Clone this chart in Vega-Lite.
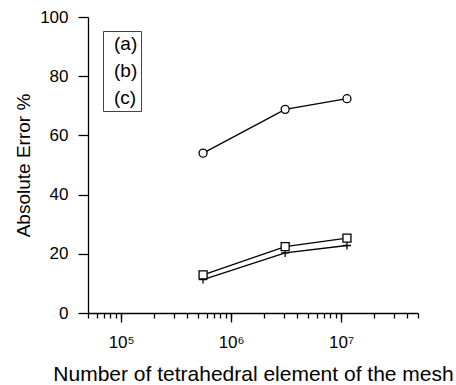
{
  "$schema": "https://vega.github.io/schema/vega-lite/v6.json",
  "autosize": "none",
  "padding": {"left": 88, "top": 17, "right": 38, "bottom": 72},
  "width": 330,
  "height": 296,
  "background": "white",
  "config": {
    "font": "Liberation Sans",
    "view": {"stroke": null},
    "axis": {"grid": false, "domainColor": "black", "tickColor": "black", "labelColor": "black", "titleColor": "black", "labelFont": "Liberation Sans", "titleFont": "Liberation Sans", "titleFontWeight": "normal", "domainWidth": 1.3, "tickWidth": 1.3}
  },
  "data": {"values": [
    {"n": 556000, "err": 11.3, "s": "(a)"},
    {"n": 3100000, "err": 20.3, "s": "(a)"},
    {"n": 11300000, "err": 22.8, "s": "(a)"},
    {"n": 556000, "err": 12.9, "s": "(b)"},
    {"n": 3100000, "err": 22.4, "s": "(b)"},
    {"n": 11300000, "err": 25.3, "s": "(b)"},
    {"n": 556000, "err": 54, "s": "(c)"},
    {"n": 3100000, "err": 68.8, "s": "(c)"},
    {"n": 11300000, "err": 72.4, "s": "(c)"}
  ]},
  "layer": [
    {
      "mark": {"type": "line", "color": "black", "strokeWidth": 1.3},
      "encoding": {
        "x": {"field": "n", "type": "quantitative", "scale": {"type": "log", "domain": [50000, 50000000], "nice": false},
          "axis": {"orient": "bottom", "values": [50000,60000,70000,80000,90000,100000,200000,300000,400000,500000,600000,700000,800000,900000,1000000,2000000,3000000,4000000,5000000,6000000,7000000,8000000,9000000,10000000,20000000,30000000,40000000,50000000], "tickSize": 5, "labels": false, "title": null}},
        "y": {"field": "err", "type": "quantitative", "scale": {"domain": [0, 100], "nice": false},
          "axis": {"values": [0,20,40,60,80,100], "tickSize": 10, "labelPadding": 10, "labelFontSize": 17, "title": "Absolute Error %", "titleFontSize": 19, "titlePadding": 6}},
        "detail": {"field": "s"}
      }
    },
    {
      "mark": {"type": "point", "filled": true, "color": "white", "fill": "white", "stroke": "black", "strokeWidth": 1.3, "opacity": 1},
      "encoding": {
        "x": {"field": "n", "type": "quantitative", "scale": {"type": "log", "domain": [50000, 50000000], "nice": false},
          "axis": {"orient": "bottom", "values": [100000, 1000000, 10000000], "domain": false, "tickSize": 9, "labelFontSize": 17, "labelPadding": 12,
            "labelExpr": "datum.value == 100000 ? '10⁵' : datum.value == 1000000 ? '10⁶' : '10⁷'",
            "title": "Number of tetrahedral element of the mesh", "titleFontSize": 21, "titlePadding": 13}},
        "y": {"field": "err", "type": "quantitative"},
        "shape": {"field": "s", "type": "nominal",
          "scale": {"domain": ["(a)", "(b)", "(c)"], "range": ["M-1,0H1M0,-1V1", "M-1,-1H1V1H-1Z", "M-1,0A1,1 0 1,0 1,0A1,1 0 1,0 -1,0"]},
          "legend": {"orient": "none", "legendX": 15, "legendY": 14, "title": null, "strokeColor": "#444", "padding": 3,
            "symbolSize": 100, "symbolStrokeWidth": 1.3, "symbolStrokeColor": "black", "symbolFillColor": "white", "symbolOpacity": 1,
            "labelFontSize": 19, "labelFont": "Liberation Sans", "labelColor": "black", "labelOffset": -11, "rowPadding": 7,
            "encode": {"symbols": {
              "stroke": {"value": "black"}, "fill": {"value": "white"}, "strokeWidth": {"value": 1.3}, "opacity": {"value": 1}, "fillOpacity": {"value": 1}, "strokeOpacity": {"value": 1}, "size": {"value": 100},
              "shape": {"value": {"expr": "datum.value == '(a)' ? 'M7.1,0H17.1M12.1,-1.2V1.2' : datum.value == '(b)' ? 'M7.1,0H11.3M12.9,0H17.1M11.3,-0.8H12.9V0.8H11.3Z' : 'M7.1,0H11.3M12.9,0H17.1M11.3,0A0.8,0.8 0 1,0 12.9,0A0.8,0.8 0 1,0 11.3,0'"}}}}
          }
        },
        "size": {"value": 64}
      }
    }
  ],
  "resolve": {"axis": {"x": "independent"}}
}
